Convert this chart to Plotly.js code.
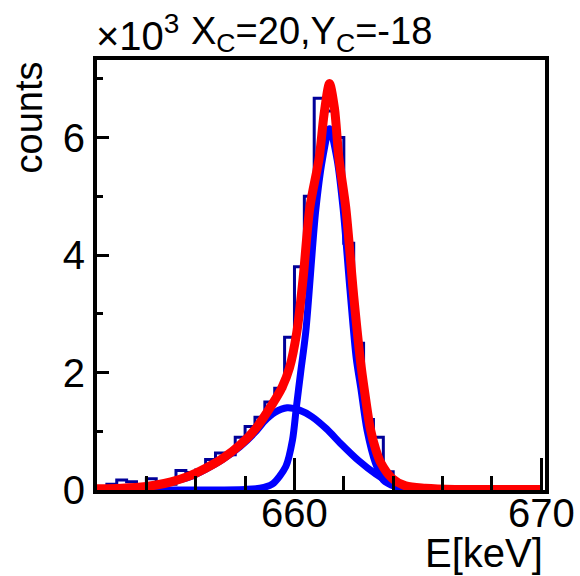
<!DOCTYPE html>
<html>
<head>
<meta charset="utf-8">
<script src="https://cdn.plot.ly/plotly-3.0.1.min.js"></script>
<style>html,body{margin:0;padding:0;background:#fff;}#chart{width:580px;height:576px;}</style>
</head>
<body>
<div id="chart"></div>
<script>
// Histogram (counts in units of 10^3), bin width 0.4 keV
const binCenters = [652.2,652.6,653.0,653.4,653.8,654.2,654.6,655.0,655.4,655.8,
  656.2,656.6,657.0,657.4,657.8,658.2,658.6,659.0,659.4,659.8,
  660.2,660.6,661.0,661.4,661.8,662.2,662.6,663.0,663.4,663.8,
  664.2,664.6,665.0,665.4,665.8,666.2,666.6,667.0,667.4,667.8,
  668.2,668.6,669.0,669.4,669.8];
const binCounts = [0.04,0.10,0.17,0.14,0.07,0.19,0.12,0.10,0.33,0.30,
  0.34,0.52,0.63,0.60,0.90,1.08,1.24,1.50,1.73,2.60,
  3.80,5.00,6.67,6.45,6.00,4.20,2.50,1.20,0.90,0.31,
  0.10,0.05,0.03,0.02,0.01,0.01,0.01,0.00,0.01,0.00,
  0.01,0.00,0.00,0.01,0.00];
const binWidth = 0.4;

// Total fit (red)
const totalE = [652,653,654,654.4,655,655.75,656.4,657.1,657.8,658.4,659.1,659.5,659.8,660.1,660.35,660.62,661.0,661.2,661.42,661.62,661.8,662.08,662.4,662.67,662.85,663.07,663.3,663.5,663.95,664.5,665.3,666.5,668,670];
const totalY = [0.02,0.03,0.06,0.085,0.14,0.24,0.37,0.54,0.77,1.03,1.46,1.75,2.08,2.7,3.6,4.8,5.65,6.4,6.92,6.5,5.65,4.8,3.3,2.21,1.65,1.05,0.68,0.46,0.2,0.07,0.03,0.01,0.01,0.01];

// Narrow photopeak component (blue)
const narrowE = [654,656,658,658.6,659.1,659.65,659.92,660.08,660.25,660.46,660.86,661.13,661.42,661.73,661.98,662.25,662.5,662.7,662.94,663.28,663.6,664.08,664.6,665.5];
const narrowY = [0,0,0.01,0.03,0.1,0.4,0.85,1.42,2.0,2.7,4.75,5.62,6.15,5.62,4.75,3.4,2.25,1.7,1.02,0.46,0.17,0.06,0.02,0];

// Broad component (blue)
const broadE = [652,653,654,655,655.75,656.4,657.1,657.8,658.4,658.8,659.2,659.7,660.2,660.7,661.3,661.9,662.6,663.3,663.8,664.3,665,666];
const broadY = [0.01,0.03,0.06,0.14,0.22,0.35,0.52,0.74,0.98,1.18,1.32,1.40,1.36,1.25,1.04,0.78,0.5,0.27,0.14,0.05,0.01,0];

const xTickVals = [660, 670];
const xTickText = ['660', '670'];
const xMinorVals = [652,654,656,658,662,664,666,668];
const yTickVals = [0, 2, 4, 6];
const yTickText = ['0', '2', '4', '6'];
const yMinorVals = [1, 3, 5, 7];

// step outline from bin centers
const stepX = binCenters.map(c => c - binWidth / 2).concat([binCenters[binCenters.length - 1] + binWidth / 2]);
const stepY = binCounts.concat([binCounts[binCounts.length - 1]]);

const FONT = 'Liberation Sans, Arial, Helvetica, sans-serif';

const traces = [
  {x: stepX, y: stepY, type: 'scatter', mode: 'lines', line: {shape: 'hv', color: '#000099', width: 3}, hoverinfo: 'skip'},
  {x: broadE, y: broadY, type: 'scatter', mode: 'lines', line: {shape: 'spline', smoothing: 0.8, color: '#0000ff', width: 7}},
  {x: narrowE, y: narrowY, type: 'scatter', mode: 'lines', line: {shape: 'spline', smoothing: 0.8, color: '#0000ff', width: 7}},
  {x: totalE, y: totalY, type: 'scatter', mode: 'lines', line: {shape: 'spline', smoothing: 0.8, color: '#ff0000', width: 9}}
];

const layout = {
  width: 580, height: 576,
  margin: {l: 97, r: 35, t: 60, b: 86, pad: 0},
  paper_bgcolor: '#ffffff', plot_bgcolor: '#ffffff',
  showlegend: false,
  font: {family: FONT, color: '#000', size: 40},
  xaxis: {
    range: [652, 670.15], showgrid: false, zeroline: false,
    showline: true, linecolor: '#000', linewidth: 4, mirror: true,
    ticks: 'inside', ticklen: 32, tickwidth: 3, tickcolor: '#000',
    tickmode: 'array', tickvals: xTickVals, ticktext: xTickText,
    ticklabelstandoff: -15,
    tickfont: {family: FONT, size: 40, color: '#000'},
    minor: {tickmode: 'array', tickvals: xMinorVals, ticks: 'inside', ticklen: 14, tickwidth: 3, tickcolor: '#000', showgrid: false}
  },
  yaxis: {
    range: [0, 7.32], showgrid: false, zeroline: false,
    showline: true, linecolor: '#000', linewidth: 4, mirror: true,
    ticks: 'inside', ticklen: 12, tickwidth: 3, tickcolor: '#000',
    tickmode: 'array', tickvals: yTickVals, ticktext: yTickText,
    tickfont: {family: FONT, size: 40, color: '#000'},
    minor: {tickmode: 'array', tickvals: yMinorVals, ticks: 'inside', ticklen: 6, tickwidth: 3, tickcolor: '#000', showgrid: false}
  },
  annotations: [
    {xref: 'paper', yref: 'paper', x: -0.1496, y: 0.8663, xanchor: 'center', yanchor: 'middle', textangle: -90,
     text: 'counts', showarrow: false, font: {family: FONT, size: 38, color: '#000'}},
    {xref: 'paper', yref: 'paper', x: 1.0, y: -0.1465, xanchor: 'right', yanchor: 'middle',
     text: 'E[keV]', showarrow: false, font: {family: FONT, size: 40, color: '#000'}},
    {xref: 'paper', yref: 'paper', x: -0.0067, y: 1.0, xanchor: 'left', yanchor: 'bottom',
     text: '×10<sup>3</sup>', showarrow: false, font: {family: FONT, size: 40, color: '#000'}},
    {xref: 'paper', yref: 'paper', x: 0.2054, y: 1.0, xanchor: 'left', yanchor: 'bottom',
     text: 'X<sub>C</sub>=20,Y<sub>C</sub>=-18', showarrow: false, font: {family: FONT, size: 38, color: '#000'}}
  ]
};

Plotly.newPlot('chart', traces, layout, {displayModeBar: false, staticPlot: true});
</script>
</body>
</html>
